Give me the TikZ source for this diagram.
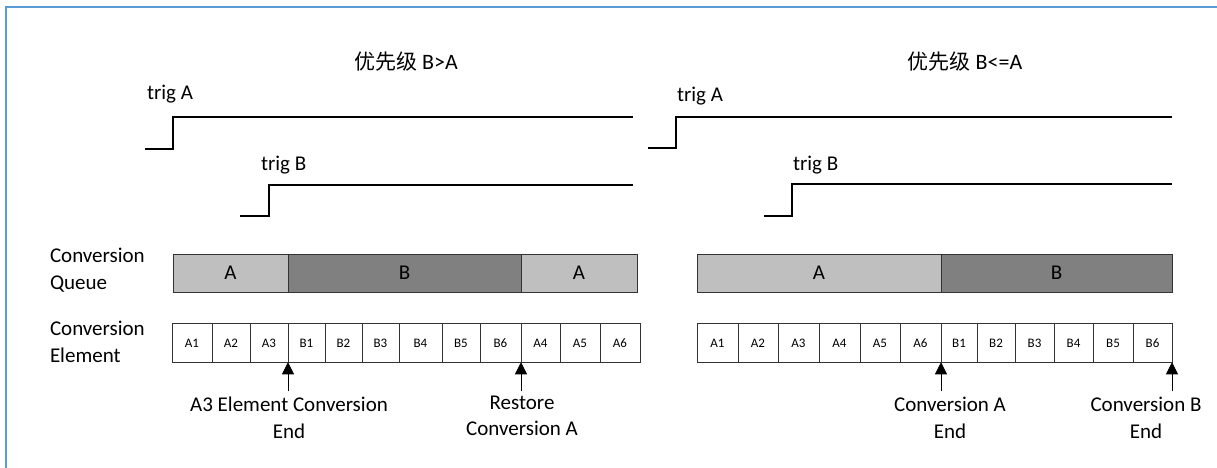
\documentclass[tikz,border=0pt]{standalone}
\usepackage{fontspec}
\setmainfont{Carlito}
\newfontfamily\cjk{Noto Sans CJK SC}
\usetikzlibrary{arrows.meta}
\definecolor{frameblue}{RGB}{91,155,213}
\definecolor{qlight}{RGB}{191,191,191}
\definecolor{qdark}{RGB}{128,128,128}
\tikzset{
  sig/.style={line width=1.8pt, line join=miter},
  lbl/.style={inner sep=0pt, outer sep=0pt, font=\fontsize{21}{26.5}\selectfont},
  ttl/.style={inner sep=0pt, outer sep=0pt, anchor=base, font=\fontsize{22}{26}\selectfont},
  qbox/.style={draw=black!80, line width=0.9pt, minimum height=38pt, inner sep=0pt, outer sep=0pt, anchor=west, font=\fontsize{21}{24}\selectfont},
  cell/.style={draw=black!80, line width=0.8pt, minimum height=38.5pt, inner sep=0pt, outer sep=0pt, anchor=west, font=\fontsize{13}{14}\selectfont},
  marker/.style={-{Triangle[width=12pt,length=12pt]}, line width=0.8pt},
}
\begin{document}
\begin{tikzpicture}[x=1pt,y=-1pt]
\useasboundingbox (0,0) rectangle (1217,468);
% frame
\draw[frameblue, line width=2pt] (5.5,470) -- (5.5,7.5) -- (1220,7.5);

% ---------- left panel ----------
\node[ttl] (t1) at (406,69.5) {{\cjk\fontsize{21}{24}\selectfont 优先级} B>A};
\node[lbl, anchor=base west] (ta1) at (147,100) {trig A};
\node[lbl, anchor=base west] (tb1) at (261,170) {trig B};
\draw[sig] (145,149) -- (173,149) -- (173,117) -- (633,117);
\draw[sig] (240,216) -- (269,216) -- (269,185) -- (633,185);

\node[lbl, anchor=west, align=left] (cq1) at (50,270) {Conversion\\Queue};
\node[lbl, anchor=west, align=left] (ce1) at (50,342) {Conversion\\Element};

\node[qbox, fill=qlight, minimum width=115pt] (qa1) at (173,273) {A};
\node[qbox, fill=qdark, minimum width=233pt] (qb1) at (qa1.east) {B};
\node[qbox, fill=qlight, minimum width=116pt] (qc1) at (qb1.east) {A};

\node[cell, minimum width=40pt] (l1) at (172,343) {A1};
\node[cell, minimum width=38pt] (l2) at (l1.east) {A2};
\node[cell, minimum width=38pt] (l3) at (l2.east) {A3};
\node[cell, minimum width=37pt] (l4) at (l3.east) {B1};
\node[cell, minimum width=37pt] (l5) at (l4.east) {B2};
\node[cell, minimum width=37pt] (l6) at (l5.east) {B3};
\node[cell, minimum width=43pt] (l7) at (l6.east) {B4};
\node[cell, minimum width=38pt] (l8) at (l7.east) {B5};
\node[cell, minimum width=41pt] (l9) at (l8.east) {B6};
\node[cell, minimum width=39pt] (l10) at (l9.east) {A4};
\node[cell, minimum width=40pt] (l11) at (l10.east) {A5};
\node[cell, minimum width=40pt] (l12) at (l11.east) {A6};

\coordinate (a1s) at (l3.south east |- 0,391);
\draw[marker] (a1s) -- (l3.south east);
\coordinate (a2s) at (l9.south east |- 0,391);
\draw[marker] (a2s) -- (l9.south east);
\node[lbl, align=center] (n1) at (289,418) {A3 Element Conversion\\End};
\node[lbl, align=center] (n2) at (522,416) {Restore\\Conversion A};

% ---------- right panel ----------
\node[ttl] (t2) at (965,69.5) {{\cjk\fontsize{21}{24}\selectfont 优先级} B<=A};
\node[lbl, anchor=base west] (ta2) at (677,102) {trig A};
\node[lbl, anchor=base west] (tb2) at (793,170) {trig B};
\draw[sig] (648,148) -- (676,148) -- (676,117) -- (1172,117);
\draw[sig] (764,216) -- (792,216) -- (792,184) -- (1172,184);

\node[qbox, fill=qlight, minimum width=244pt] (qa2) at (697,273) {A};
\node[qbox, fill=qdark, minimum width=231pt] (qb2) at (qa2.east) {B};

\node[cell, minimum width=41pt] (r1) at (697,343) {A1};
\node[cell, minimum width=40pt] (r2) at (r1.east) {A2};
\node[cell, minimum width=41pt] (r3) at (r2.east) {A3};
\node[cell, minimum width=41pt] (r4) at (r3.east) {A4};
\node[cell, minimum width=40pt] (r5) at (r4.east) {A5};
\node[cell, minimum width=41pt] (r6) at (r5.east) {A6};
\node[cell, minimum width=36pt] (r7) at (r6.east) {B1};
\node[cell, minimum width=38pt] (r8) at (r7.east) {B2};
\node[cell, minimum width=39pt] (r9) at (r8.east) {B3};
\node[cell, minimum width=39pt] (r10) at (r9.east) {B4};
\node[cell, minimum width=40pt] (r11) at (r10.east) {B5};
\node[cell, minimum width=39pt] (r12) at (r11.east) {B6};

\coordinate (b1s) at (r6.south east |- 0,391);
\draw[marker] (b1s) -- (r6.south east);
\coordinate (b2s) at (r12.south east |- 0,391);
\draw[marker] (b2s) -- (r12.south east);
\node[lbl, align=center] (n3) at (950,418) {Conversion A\\End};
\node[lbl, align=center] (n4) at (1146,418) {Conversion B\\End};
\end{tikzpicture}
\end{document}
